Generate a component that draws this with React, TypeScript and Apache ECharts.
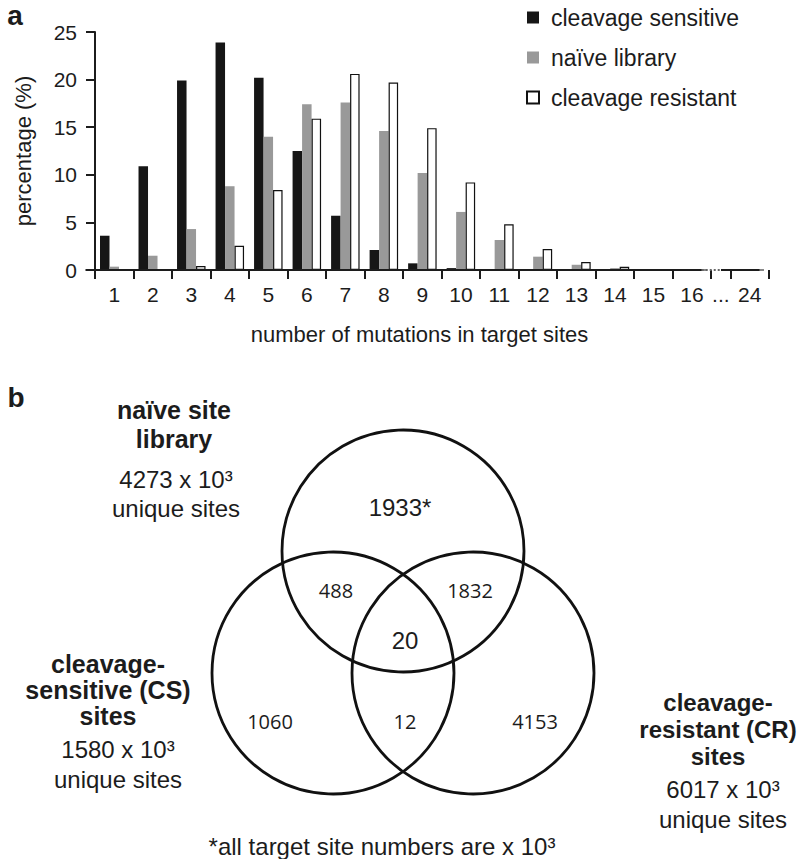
import React, { useEffect, useRef } from "react";
import * as echarts from "echarts";

// ---------- data ----------
const categories = ["1", "2", "3", "4", "5", "6", "7", "8", "9", "10", "11", "12", "13", "14", "15", "16", "24"];
const cleavageSensitive = [3.6, 10.9, 19.9, 23.9, 20.2, 12.5, 5.7, 2.1, 0.7, 0.2, 0, 0, 0, 0, 0, 0, 0];
const naiveLibrary = [0.35, 1.5, 4.3, 8.8, 14.0, 17.4, 17.6, 14.6, 10.2, 6.1, 3.15, 1.4, 0.55, 0.2, 0.05, 0, 0];
const cleavageResistant = [0.08, 0.05, 0.42, 2.55, 8.4, 15.9, 20.6, 19.7, 14.9, 9.2, 4.8, 2.2, 0.84, 0.33, 0.1, 0, 0];
const seriesNames = ["cleavage sensitive", "naïve library", "cleavage resistant"];
const yTicks = [0, 5, 10, 15, 20, 25];

const vennCounts = {
  naiveOnly: "1933*",
  naiveCS: "488",
  naiveCR: "1832",
  all: "20",
  csOnly: "1060",
  csCR: "12",
  crOnly: "4153",
};
const vennTotals = { naive: "4273", cs: "1580", cr: "6017" };

// ---------- layout helpers ----------
// categories 1..16 sit at x = 1..16; after an axis break of half a band, "24" sits at 17.5
const catX = (i: number) => (i < 16 ? i + 1 : 17.5);
const FONT = "Liberation Sans";
const INK = "#1c1c1c";

export default function App() {
  const ref = useRef<HTMLDivElement>(null);

  useEffect(() => {
    if (!ref.current) return;
    const chart = echarts.init(ref.current, null, { renderer: "svg" });

    const mk = (vals: number[]) => vals.map((v, i) => [catX(i), v]);
    const tickVals: number[] = [];
    for (let i = 0; i <= 16; i++) tickVals.push(i + 0.5);
    tickVals.push(17, 18);
    const labelVals: number[] = [];
    for (let i = 1; i <= 16; i++) labelVals.push(i);
    labelVals.push(16.75, 17.5);

    const text = (x: number, y: number, t: string, opts: any = {}) => ({
      type: "text",
      x,
      y,
      silent: true,
      style: {
        text: t,
        fill: INK,
        fontFamily: opts.family || FONT,
        fontSize: opts.size || 24,
        fontWeight: opts.weight || "normal",
        lineHeight: opts.lineHeight,
        align: opts.align || "center",
        textAlign: opts.align || "center",
        verticalAlign: "middle",
        textVerticalAlign: "middle",
      },
    });
    const circle = (cx: number, cy: number, r: number) => ({
      type: "circle",
      silent: true,
      shape: { cx, cy, r },
      style: { fill: "none", stroke: "#111", lineWidth: 2.8 },
    });

    const R = 121;
    const top = { x: 403, y: 551 };
    const left = { x: 333, y: 673 };
    const right = { x: 473, y: 673 };

    chart.setOption({
      animation: false,
      textStyle: { fontFamily: FONT, color: INK },
      grid: { left: 95, right: 30, top: 32, bottom: 589, containLabel: false },
      legend: {
        orient: "vertical",
        left: 521,
        top: 1,
        icon: "rect",
        itemWidth: 12,
        itemHeight: 12,
        itemGap: 17,
        selectedMode: false,
        data: seriesNames,
        textStyle: { fontSize: 23, color: INK, fontFamily: FONT, lineHeight: 23, padding: [0, 0, 0, 7] },
      },
      xAxis: {
        type: "value",
        min: 0.5,
        max: 18,
        name: "number of mutations in target sites",
        nameLocation: "middle",
        nameGap: 53,
        nameTextStyle: { fontSize: 22, color: INK, fontFamily: FONT, padding: [0, 25, 0, 0] },
        axisLine: { show: false },
        splitLine: { show: false },
        axisTick: {
          show: true,
          length: 9,
          customValues: tickVals,
          lineStyle: { color: INK, width: 2 },
        },
        axisLabel: {
          show: true,
          customValues: labelVals,
          margin: 14,
          fontSize: 21,
          color: INK,
          fontFamily: FONT,
          formatter: (v: number) => {
            if (Math.abs(v - 16.75) < 0.01) return "...";
            if (Math.abs(v - 17.5) < 0.01) return categories[16];
            return categories[Math.round(v) - 1] ?? "";
          },
        },
      },
      yAxis: {
        type: "value",
        min: yTicks[0],
        max: yTicks[yTicks.length - 1],
        interval: 5,
        name: "percentage (%)",
        nameLocation: "middle",
        nameGap: 61,
        nameTextStyle: { fontSize: 22, color: INK, fontFamily: FONT },
        axisLine: { show: true, lineStyle: { color: INK, width: 2 } },
        axisTick: { show: true, length: 9, lineStyle: { color: INK, width: 2 } },
        splitLine: { show: false },
        axisLabel: { margin: 18, fontSize: 21, color: INK, fontFamily: FONT },
      },
      series: [
        {
          name: seriesNames[0],
          type: "bar",
          barWidth: 9.5,
          barGap: "0%",
          data: mk(cleavageSensitive),
          itemStyle: { color: "#161616" },
          markLine: {
            silent: true,
            symbol: "none",
            label: { show: false },
            lineStyle: { color: INK, width: 2, type: "solid" },
            data: [
              [{ coord: [0.5, 0] }, { coord: [16.5, 0] }],
              [{ coord: [16.5, 0], lineStyle: { color: "#666", width: 2, type: "dotted" } }, { coord: [17, 0] }],
              [{ coord: [17, 0] }, { coord: [18, 0] }],
            ],
          },
        },
        {
          name: seriesNames[1],
          type: "bar",
          barWidth: 9.5,
          barGap: "0%",
          data: mk(naiveLibrary),
          itemStyle: { color: "#999999" },
        },
        {
          name: seriesNames[2],
          type: "bar",
          barWidth: 9.5,
          barGap: "0%",
          data: mk(cleavageResistant),
          itemStyle: { color: "#ffffff", borderColor: "#111", borderWidth: 1.2 },
        },
      ],
      graphic: [
        text(15, 15.5, "a", { size: 28, weight: "bold" }),
        text(16, 397, "b", { size: 28, weight: "bold" }),
        circle(top.x, top.y, R),
        circle(left.x, left.y, R),
        circle(right.x, right.y, R),
        // top set label
        text(174, 424, "naïve site\nlibrary", { size: 25, weight: "bold", lineHeight: 29 }),
        text(176, 494, vennTotals.naive + " x 10³\nunique sites", { size: 24, lineHeight: 29 }),
        // left set label
        text(108, 690, "cleavage-\nsensitive (CS)\nsites", { size: 25, weight: "bold", lineHeight: 26 }),
        text(118, 764, vennTotals.cs + " x 10³\nunique sites", { size: 24, lineHeight: 30 }),
        // right set label
        text(718, 729, "cleavage-\nresistant (CR)\nsites", { size: 24, weight: "bold", lineHeight: 27 }),
        text(723, 804, vennTotals.cr + " x 10³\nunique sites", { size: 24, lineHeight: 30 }),
        // region counts
        text(400, 507, vennCounts.naiveOnly, { size: 24 }),
        text(336, 590, vennCounts.naiveCS, { size: 20, family: "Open Sans" }),
        text(470, 590, vennCounts.naiveCR, { size: 20, family: "Open Sans" }),
        text(405, 640, vennCounts.all, { size: 24 }),
        text(270, 721, vennCounts.csOnly, { size: 20, family: "Open Sans" }),
        text(405, 721, vennCounts.csCR, { size: 20, family: "Open Sans" }),
        text(535, 721, vennCounts.crOnly, { size: 20, family: "Open Sans" }),
        // footnote
        text(382, 846, "*all target site numbers are x 10³", { size: 24 }),
      ],
    });

    return () => chart.dispose();
  }, []);

  return (
    <div
      ref={ref}
      style={{ position: "fixed", left: 0, top: 0, width: 799, height: 859, background: "#fff" }}
    />
  );
}
